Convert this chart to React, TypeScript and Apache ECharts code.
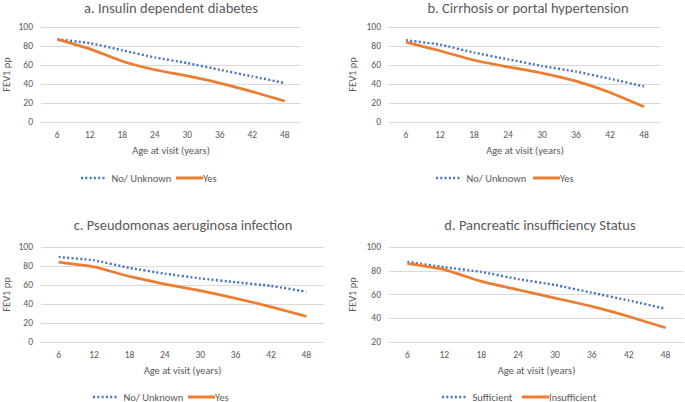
import React, { useEffect, useRef } from "react";
import * as echarts from "echarts";

const ages = ["6", "12", "18", "24", "30", "36", "42", "48"];

const titles = [
  "a. Insulin dependent diabetes",
  "b. Cirrhosis or portal hypertension",
  "c. Pseudomonas aeruginosa infection",
  "d. Pancreatic insufficiency Status",
];

const legendA = ["No/ Unknown", "Yes"];
const legendD = ["Sufficient", "Insufficient"];

const aNo = [87, 83, 75.5, 68, 62, 55, 48, 41];
const aYes = [87, 77, 64, 55, 48.5, 41, 32, 22];
const bNo = [86, 81.5, 73, 66, 59, 53, 45.5, 37.5];
const bYes = [84, 75, 65, 58, 51.5, 43, 31, 16];
const cNo = [89.5, 86, 78, 72, 67, 63, 59, 53];
const cYes = [84, 79, 69, 61, 54, 46, 37, 27];
const dSuff = [87.5, 83, 79, 73, 68, 61.5, 55, 48];
const dInsuff = [86, 81, 71, 64, 57, 50, 41.5, 32];

const FONT = "Carlito, Lato, 'Open Sans', sans-serif";
const GREY = "#595959";
const BLUE = "#4472C4";
const ORANGE = "#ED7D31";

const DOTS_ICON =
  "path://M0,0h2v2.4h-2z M4.3,0h2v2.4h-2z M8.6,0h2v2.4h-2z M12.9,0h2v2.4h-2z M17.2,0h2v2.4h-2z M21.5,0h2v2.4h-2z";
const SOLID_ICON = "path://M0,0h27v3h-27z";

export default function App() {
  const ref = useRef<HTMLDivElement>(null);
  useEffect(() => {
    if (!ref.current) return;
    const chart = echarts.init(ref.current, null, { renderer: "svg" });

    const grids = [
      { left: 35, right: 384, top: 27, bottom: 280 },
      { left: 389, right: 24, top: 27, bottom: 280 },
      { left: 36, right: 361, top: 247, bottom: 60 },
      { left: 389, right: 1, top: 247, bottom: 60 },
    ];
    const titlePos = [
      { x: 171, y: 0 },
      { x: 528, y: 0 },
      { x: 183, y: 217 },
      { x: 540, y: 217 },
    ];
    // [blue icon left, orange icon left, center y]
    const legendPos = [
      [81, 176, 178],
      [436, 533, 178],
      [93, 188, 397],
      [442, 522, 397],
    ];
    const data = [
      [aNo, aYes],
      [bNo, bYes],
      [cNo, cYes],
      [dSuff, dInsuff],
    ];
    const names = [legendA, legendA, legendA, legendD];
    const yMins = [0, 0, 0, 20];

    const legends: any[] = [];
    legendPos.forEach((p, i) => {
      legends.push({
        left: p[0],
        top: p[2] - 7,
        padding: 0,
        itemWidth: 23.5,
        itemHeight: 2.4,
        itemGap: 0,
        icon: DOTS_ICON,
        data: [{ name: names[i][0], icon: DOTS_ICON, itemStyle: { color: BLUE } }],
        textStyle: { fontFamily: FONT, fontSize: 10.5, color: GREY, padding: [0, 0, 0, 2], lineHeight: 14 },
      });
      legends.push({
        left: p[1],
        top: p[2] - 7,
        padding: 0,
        itemWidth: 27,
        itemHeight: 3,
        itemGap: 0,
        icon: SOLID_ICON,
        data: [{ name: names[i][1], icon: SOLID_ICON, itemStyle: { color: ORANGE } }],
        textStyle: { fontFamily: FONT, fontSize: 10.5, color: GREY, padding: [0, 0, 0, -5], lineHeight: 14 },
      });
    });

    const option: any = {
      animation: false,
      textStyle: { fontFamily: FONT },
      title: titlePos.map((p, i) => ({
        text: titles[i],
        left: p.x,
        top: p.y,
        padding: 0,
        textAlign: "center",
        textStyle: { fontFamily: FONT, fontSize: 14.5, fontWeight: "normal", color: GREY },
      })),
      grid: grids,
      legend: legends,
      xAxis: grids.map((_, i) => ({
        type: "category",
        gridIndex: i,
        data: ages,
        boundaryGap: true,
        name: "Age at visit (years)",
        nameLocation: "middle",
        nameGap: 23,
        nameTextStyle: { fontFamily: FONT, fontSize: 10.5, color: GREY },
        axisLine: { show: false },
        axisTick: { show: false },
        axisLabel: { fontFamily: FONT, fontSize: 9.5, color: GREY, margin: 8 },
      })),
      yAxis: grids.map((_, i) => ({
        type: "value",
        gridIndex: i,
        min: yMins[i],
        max: 100,
        interval: 20,
        name: "FEV1 pp",
        nameLocation: "middle",
        nameGap: i % 2 === 0 ? 29 : 31,
        nameRotate: 90,
        nameTextStyle: { fontFamily: FONT, fontSize: 10.5, color: GREY },
        axisLine: { show: false },
        axisTick: { show: false },
        axisLabel: { fontFamily: FONT, fontSize: 9.5, color: GREY, margin: 8 },
        splitLine: { lineStyle: { color: "#D9D9D9", width: 1 } },
      })),
      series: data.flatMap((pair, i) => [
        {
          type: "line",
          name: names[i][0],
          xAxisIndex: i,
          yAxisIndex: i,
          data: pair[0],
          showSymbol: false,
          symbol: "none",
          smooth: 0.15,
          lineStyle: { color: BLUE, width: 2.4, type: [2, 2.3], cap: "butt" },
          itemStyle: { color: BLUE },
        },
        {
          type: "line",
          name: names[i][1],
          xAxisIndex: i,
          yAxisIndex: i,
          data: pair[1],
          showSymbol: false,
          symbol: "none",
          smooth: 0.15,
          lineStyle: { color: ORANGE, width: 2.75 },
          itemStyle: { color: ORANGE },
        },
      ]),
    };
    chart.setOption(option);
    return () => chart.dispose();
  }, []);
  return (
    <div
      ref={ref}
      style={{ position: "fixed", left: 0, top: 0, width: 685, height: 402, background: "#fff" }}
    />
  );
}
